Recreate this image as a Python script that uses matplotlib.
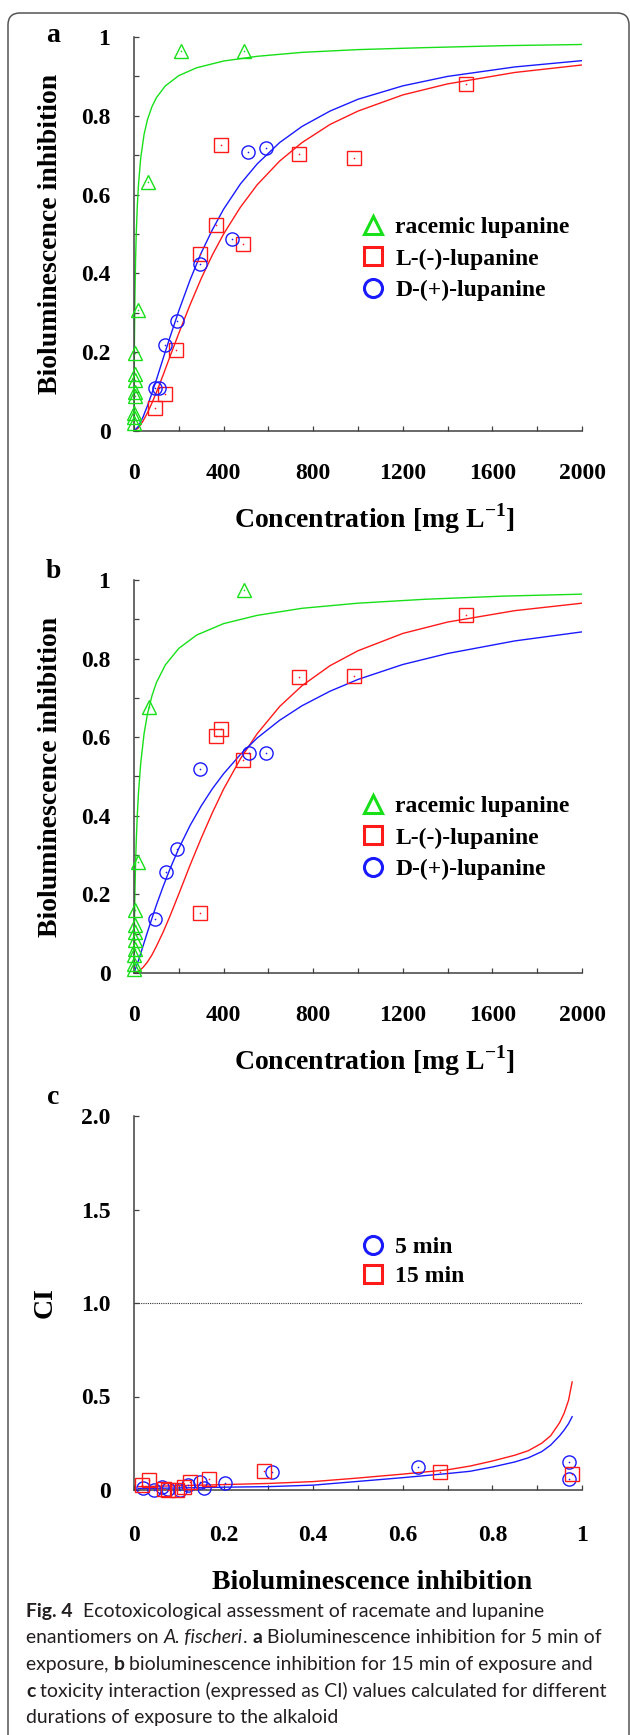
import matplotlib
matplotlib.use('Agg')
import matplotlib.pyplot as plt
from matplotlib.lines import Line2D
from matplotlib.patches import FancyBboxPatch
from matplotlib.transforms import IdentityTransform
from matplotlib import font_manager

plt.rcParams['font.family'] = ['Liberation Serif', 'DejaVu Serif']
plt.rcParams['font.weight'] = 'bold'
plt.rcParams['mathtext.fontset'] = 'custom'
plt.rcParams['mathtext.rm'] = 'Liberation Serif:bold'
plt.rcParams['mathtext.bf'] = 'Liberation Serif:bold'

green = '#18e018'
red = '#ff1a1a'
blue = '#1a1aff'

# ---- panel a : 5 min ----
rac_a_x = [1, 1.5, 2, 2.5, 3, 3.5, 4, 5, 18, 63, 212, 491]
rac_a_y = [0.02, 0.035, 0.045, 0.09, 0.10, 0.13, 0.145, 0.197, 0.307, 0.633, 0.965, 0.965]
lmin_a_x = [92, 140, 189, 293, 365, 388, 485, 735, 983, 1482]
lmin_a_y = [0.059, 0.095, 0.205, 0.449, 0.523, 0.725, 0.475, 0.703, 0.693, 0.880]
dplus_a_x = [95, 110, 140, 190, 293, 438, 510, 589]
dplus_a_y = [0.108, 0.108, 0.218, 0.279, 0.424, 0.487, 0.707, 0.718]

# fitted curves
fit_rac_x = [0, 1, 2, 4, 7, 10, 15, 20, 30, 45, 60, 80, 100, 140, 200, 280, 400, 550, 750, 1000, 1300, 1650, 2000]
fit_rac_a_y = [0, 0.154, 0.233, 0.337, 0.434, 0.5, 0.574, 0.625, 0.693, 0.753, 0.790, 0.823, 0.846, 0.876,
               0.902, 0.922, 0.939, 0.951, 0.961, 0.968, 0.973, 0.978, 0.981]
fit_x = [0, 20, 40, 60, 80, 100, 130, 160, 200, 250, 300, 350, 400, 475, 550, 650, 750, 875, 1000, 1200, 1400, 1700, 2000]
fit_dplus_a_y = [0, 0.012, 0.035, 0.064, 0.096, 0.130, 0.184, 0.237, 0.305, 0.383, 0.452, 0.511, 0.563, 0.627,
                 0.678, 0.732, 0.773, 0.812, 0.842, 0.876, 0.900, 0.924, 0.940]
fit_lmin_a_y = [0, 0.008, 0.025, 0.046, 0.071, 0.098, 0.142, 0.188, 0.248, 0.320, 0.387, 0.447, 0.5, 0.568,
                0.625, 0.685, 0.732, 0.778, 0.812, 0.853, 0.881, 0.910, 0.929]

# ---- panel b : 15 min ----
rac_b_x = [1, 1.5, 2, 2.5, 3, 3.5, 4, 5, 18, 65, 491]
rac_b_y = [0.011, 0.024, 0.045, 0.062, 0.083, 0.104, 0.121, 0.16, 0.283, 0.677, 0.975]
lmin_b_x = [293, 365, 388, 485, 735, 983, 1482]
lmin_b_y = [0.153, 0.603, 0.621, 0.542, 0.752, 0.756, 0.911]
dplus_b_x = [92, 142, 190, 293, 512, 589]
dplus_b_y = [0.137, 0.257, 0.315, 0.518, 0.559, 0.559]

fit_rac_b_y = [0, 0.082, 0.131, 0.202, 0.278, 0.335, 0.405, 0.458, 0.534, 0.609, 0.659, 0.705, 0.739, 0.784,
               0.826, 0.860, 0.889, 0.910, 0.928, 0.941, 0.951, 0.959, 0.964]
fit_lmin_b_y = [0, 0.004, 0.014, 0.028, 0.046, 0.068, 0.104, 0.144, 0.201, 0.274, 0.343, 0.408, 0.468, 0.545,
                0.609, 0.678, 0.731, 0.782, 0.820, 0.864, 0.893, 0.922, 0.941]
fit_dplus_b_y = [0, 0.032, 0.068, 0.104, 0.139, 0.173, 0.220, 0.264, 0.317, 0.375, 0.425, 0.469, 0.507, 0.556,
                 0.598, 0.643, 0.680, 0.717, 0.747, 0.785, 0.813, 0.845, 0.868]

# ---- panel c : CI ----
ci5_x = [0.021, 0.045, 0.062, 0.075, 0.102, 0.121, 0.147, 0.156, 0.203, 0.307, 0.633, 0.971, 0.971]
ci5_y = [0.009, 0.0, 0.018, 0.005, 0.0, 0.027, 0.041, 0.009, 0.039, 0.095, 0.125, 0.151, 0.059]
ci15_x = [0.017, 0.034, 0.067, 0.076, 0.096, 0.111, 0.125, 0.168, 0.29, 0.683, 0.977]
ci15_y = [0.027, 0.053, 0.004, 0.0, 0.0, 0.018, 0.044, 0.057, 0.103, 0.095, 0.086]
ci_fit_x = [0.01, 0.05, 0.1, 0.15, 0.2, 0.3, 0.4, 0.5, 0.6, 0.7, 0.75, 0.8, 0.85, 0.88, 0.91, 0.93, 0.95, 0.96, 0.97, 0.978]
ci5_fit_y = [0.008, 0.009, 0.011, 0.013, 0.015, 0.018, 0.026, 0.046, 0.066, 0.088, 0.100, 0.123, 0.150, 0.172,
             0.205, 0.240, 0.290, 0.320, 0.355, 0.392]
ci15_fit_y = [0.018, 0.020, 0.023, 0.026, 0.029, 0.035, 0.045, 0.064, 0.085, 0.108, 0.128, 0.155, 0.186, 0.210,
              0.250, 0.290, 0.360, 0.410, 0.480, 0.578]

conc_ticks = [0, 400, 800, 1200, 1600, 2000]
inh_ticks = [0, 0.2, 0.4, 0.6, 0.8, 1]
inh_labels = ['0', '0.2', '0.4', '0.6', '0.8', '1']
ci_ticks = [0, 0.5, 1.0, 1.5, 2.0]
ci_labels = ['0', '0.5', '1.0', '1.5', '2.0']

W, H = 630, 1735
fig = plt.figure(figsize=(W / 100, H / 100), dpi=100)


def ax_at(left, top, right, bottom):
    return fig.add_axes([left / W, 1 - bottom / H, (right - left) / W, (bottom - top) / H])


def style(ax):
    for s in ['top', 'right']:
        ax.spines[s].set_visible(False)
    for s in ['left', 'bottom']:
        ax.spines[s].set_color('#404040')
        ax.spines[s].set_linewidth(1.1)
    ax.tick_params(which='both', direction='in', length=3.5, width=0.9, color='#404040', labelsize=17)
    ax.tick_params(axis='x', pad=23)
    ax.tick_params(axis='y', pad=17)


def scatter(ax, x, y, marker, color):
    ax.plot(x, y, ls='none', marker=marker, ms=9.5, mfc='none', mec=color, mew=1.0, clip_on=False, zorder=3)
    ax.plot(x, y, ls='none', marker='o', ms=1.2, mfc=color, mec=color, mew=0, clip_on=False, zorder=3)


def legend(ax, labels, markers, colors, xc, yc, spacing):
    handles = [Line2D([], [], ls='none', marker=m, ms=13, mfc='none', mec=c, mew=2.2)
               for m, c in zip(markers, colors)]
    ax.legend(handles, labels, loc='center left', bbox_to_anchor=(xc / W, 1 - yc / H),
              bbox_transform=fig.transFigure, frameon=False, fontsize=17, handlelength=1.0,
              handletextpad=0.45, labelspacing=spacing, borderpad=0, borderaxespad=0)


def conc_panel(top, bottom, rx, ry, lx, ly, dx, dy, frac, flmin, fdplus, letter, letter_y, legend_y):
    ax = ax_at(134, top, 582, bottom)
    style(ax)
    ax.plot(fit_rac_x, frac, color=green, lw=1.0, zorder=2)
    ax.plot(fit_x, flmin, color=red, lw=1.0, zorder=2)
    ax.plot(fit_x, fdplus, color=blue, lw=1.0, zorder=2)
    scatter(ax, rx, ry, '^', green)
    scatter(ax, lx, ly, 's', red)
    scatter(ax, dx, dy, 'o', blue)
    ax.set_xlim(0, 2000)
    ax.set_ylim(0, 1)
    ax.set_xticks(conc_ticks)
    ax.set_xticks([200, 600, 1000, 1400, 1800], minor=True)
    ax.set_yticks(inh_ticks)
    ax.set_yticklabels(inh_labels)
    ax.set_yticks([0.1, 0.3, 0.5, 0.7, 0.9], minor=True)
    legend(ax, ['racemic lupanine', 'L-(-)-lupanine', 'D-(+)-lupanine'], ['^', 's', 'o'],
           [green, red, blue], 361, legend_y, 0.42)
    fig.text(53 / W, 1 - letter_y / H, letter, fontsize=20, ha='center', va='center')
    fig.text(51 / W, 1 - (top + bottom) / 2 / H, 'Bioluminescence inhibition', fontsize=20,
             rotation=90, ha='center', va='center')
    fig.text(374 / W, 1 - (bottom + 97) / H, r'Concentration [mg L$^{\mathbf{-1}}$]', fontsize=20,
             ha='center', va='baseline')
    return ax


conc_panel(37, 431, rac_a_x, rac_a_y, lmin_a_x, lmin_a_y, dplus_a_x, dplus_a_y,
           fit_rac_a_y, fit_lmin_a_y, fit_dplus_a_y, 'a', 35, 259)
conc_panel(580, 973, rac_b_x, rac_b_y, lmin_b_x, lmin_b_y, dplus_b_x, dplus_b_y,
           fit_rac_b_y, fit_lmin_b_y, fit_dplus_b_y, 'b', 572, 838)

# panel c
axc = ax_at(134, 1116, 582, 1490)
style(axc)
axc.axhline(1.0, color='#333333', ls=(0, (1, 1)), lw=0.8, zorder=1)
axc.plot(ci_fit_x, ci15_fit_y, color=red, lw=1.0, zorder=2)
axc.plot(ci_fit_x, ci5_fit_y, color=blue, lw=1.0, zorder=2)
scatter(axc, ci5_x, ci5_y, 'o', blue)
scatter(axc, ci15_x, ci15_y, 's', red)
axc.set_xlim(0, 1)
axc.set_ylim(0, 2)
axc.set_xticks([0, 0.2, 0.4, 0.6, 0.8, 1])
axc.set_xticklabels(['0', '0.2', '0.4', '0.6', '0.8', '1'])
axc.set_xticks([0.1, 0.3, 0.5, 0.7, 0.9], minor=True)
axc.set_yticks(ci_ticks)
axc.set_yticklabels(ci_labels)
axc.tick_params(axis='x', pad=25)
legend(axc, ['5 min', '15 min'], ['o', 's'], [blue, red], 361, 1262, 0.3)
fig.text(53 / W, 1 - 1097 / H, 'c', fontsize=20, ha='center', va='center')
fig.text(45 / W, 1 - 1303 / H, 'CI', fontsize=20, rotation=90, ha='center', va='center')
fig.text(372 / W, 1 - 1582 / H, 'Bioluminescence inhibition', fontsize=20, ha='center', va='center')

# frame around the figure
frame = FancyBboxPatch((8, -40), 621, H - 13 + 40, boxstyle='round,pad=0,rounding_size=12',
                       transform=IdentityTransform(), fill=False, ec='#555555', lw=1.1, clip_on=False)
fig.patches.append(frame)

# caption with mixed bold / italic runs
names = {f.name for f in font_manager.fontManager.ttflist}
cap_font = 'Liberation Sans Narrow' if 'Liberation Sans Narrow' in names else 'Lato'
caption = [
    [('Fig. 4', 'bold', 'normal'), ('  Ecotoxicological assessment of racemate and lupanine', 'normal', 'normal')],
    [('enantiomers on ', 'normal', 'normal'), ('A. fischeri', 'normal', 'italic'), ('. ', 'normal', 'normal'),
     ('a', 'bold', 'normal'), (' Bioluminescence inhibition for 5 min of', 'normal', 'normal')],
    [('exposure, ', 'normal', 'normal'), ('b', 'bold', 'normal'),
     (' bioluminescence inhibition for 15 min of exposure and', 'normal', 'normal')],
    [('c', 'bold', 'normal'), (' toxicity interaction (expressed as CI) values calculated for different', 'normal', 'normal')],
    [('durations of exposure to the alkaloid', 'normal', 'normal')],
]
renderer = fig.canvas.get_renderer()


def run_width(text, weight, style_, size):
    t = fig.text(0, 0, text.replace(' ', '\u00a0'), fontsize=size, fontweight=weight, fontstyle=style_,
                 family=cap_font)
    w = t.get_window_extent(renderer).width
    t.remove()
    return w


base = 12
w_line2 = sum(run_width(t, wt, st, base) for t, wt, st in caption[1])
cap_size = base * 573 / w_line2
baselines = [1617, 1643, 1670, 1697, 1723]
for line, yb in zip(caption, baselines):
    x = 26
    for text, wt, st in line:
        txt = text.replace(' ', '\u00a0')
        fig.text(x / W, 1 - yb / H, txt, fontsize=cap_size, fontweight=wt, fontstyle=st,
                 family=cap_font, va='baseline', ha='left', color='#231f20')
        x += run_width(text, wt, st, cap_size)

fig.savefig('out.png', dpi=100)
